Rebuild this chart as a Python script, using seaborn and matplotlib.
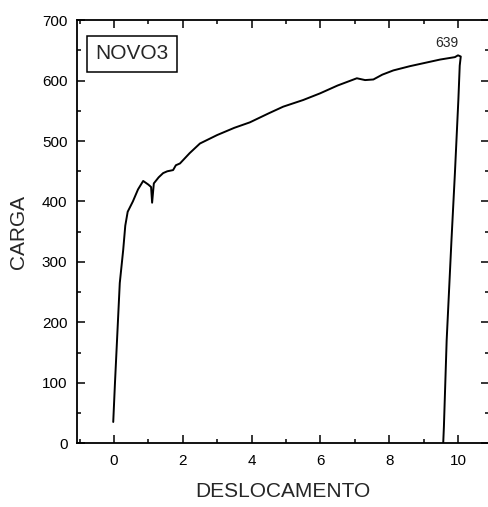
import matplotlib
matplotlib.use("Agg")
import matplotlib.pyplot as plt
from matplotlib.ticker import MultipleLocator
import seaborn as sns

# --------------------------
# Data
# --------------------------
deslocamento = [-0.02, 0.03, 0.10, 0.17, 0.27, 0.33, 0.40, 0.55, 0.70,
                0.85, 1.00, 1.08, 1.11, 1.16, 1.30, 1.43, 1.55, 1.72, 1.80,
                1.92, 2.20, 2.50, 3.00, 3.50, 3.95, 4.50, 4.92, 5.50, 5.99,
                6.50, 7.06, 7.30, 7.54, 7.80, 8.12, 8.60, 9.00, 9.48, 9.91,
                10.00, 10.08, 10.05, 10.01, 9.91, 9.81, 9.67, 9.59, 9.57]
carga = [35, 99, 182, 265, 320, 360, 383, 400, 420,
         434, 428, 424, 398, 430, 440, 447, 450, 452, 460,
         463, 480, 496, 510, 522, 531, 546, 557, 568, 579,
         592, 604, 601, 602, 610, 617, 624, 629, 635, 639,
         642, 640, 625, 568, 447, 336, 170, 27, 0]
amostra = "NOVO3"
pico_label = "639"
pico = (9.91, 639)

# --------------------------
# Style
# --------------------------
sns.set_style("ticks")
plt.rcParams["font.family"] = ["Liberation Sans", "DejaVu Sans"]

fig = plt.figure(figsize=(4.88, 5.07), dpi=100)
ax = fig.add_axes([0.158, 0.126, 0.844, 0.834])

sns.lineplot(x=deslocamento, y=carga, sort=False, estimator=None,
             color="black", linewidth=1.4, ax=ax)

ax.set_xlim(-1.07, 10.9)
ax.set_ylim(0, 700)
ax.xaxis.set_major_locator(MultipleLocator(2))
ax.xaxis.set_minor_locator(MultipleLocator(1))
ax.yaxis.set_major_locator(MultipleLocator(100))
ax.yaxis.set_minor_locator(MultipleLocator(50))
ax.tick_params(which="both", direction="in", top=True, right=True,
               width=1.1, colors="black", labelsize=11)
ax.tick_params(which="major", length=6)
ax.tick_params(which="minor", length=3)
ax.tick_params(axis="y", pad=7)
ax.tick_params(axis="x", pad=8)
for s in ax.spines.values():
    s.set_linewidth(1.3)
    s.set_color("black")

ax.set_xlabel("DESLOCAMENTO", fontsize=15)
ax.set_ylabel("CARGA", fontsize=15)
ax.xaxis.set_label_coords(0.5, -0.092)
ax.yaxis.set_label_coords(-0.12, 0.5)

ax.text(0.044, 0.921, amostra, transform=ax.transAxes, fontsize=15,
        ha="left", va="center",
        bbox=dict(boxstyle="square,pad=0.4", fc="white", ec="black", lw=1.1))
ax.annotate(pico_label, xy=pico, xytext=(-6, 10), textcoords="offset points",
            ha="center", va="center", fontsize=10)

fig.savefig("out.png", dpi=100)
